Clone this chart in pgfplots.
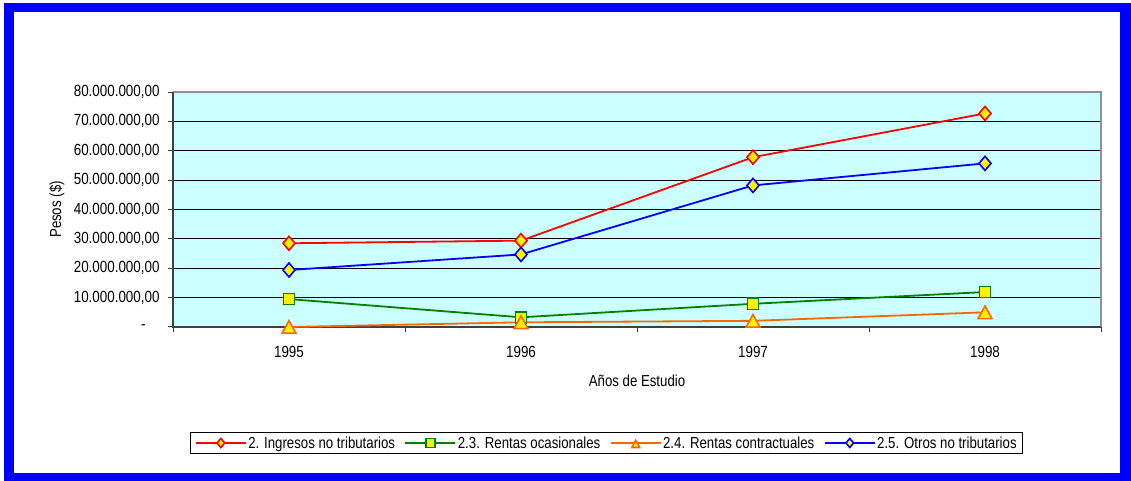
\documentclass[border=0pt]{standalone}
\usepackage{pgfplots}
\pgfplotsset{compat=1.18}
\usepackage{fontspec}
\setmainfont[FakeStretch=0.83]{Liberation Sans}
\definecolor{bg}{HTML}{CCFFFF}
\definecolor{sgreen}{HTML}{008000}
\definecolor{sorange}{HTML}{FF6600}
\definecolor{sblue}{HTML}{0000FF}
\definecolor{axdark}{HTML}{404040}
\definecolor{axgray}{HTML}{909090}
\begin{document}
\begin{tikzpicture}
\useasboundingbox (0,0) rectangle (1131bp,481bp);
\fill[sblue] (4bp,0bp) rectangle (1131bp,478bp);
\fill[white] (14bp,8bp) rectangle (1120bp,469bp);
\begin{axis}[
  at={(173bp,154bp)}, anchor=south west, scale only axis,
  width=928bp, height=235bp,
  xmin=-0.5, xmax=3.5, ymin=0, ymax=80000000,
  xtick={0,1,2,3}, xticklabels={1995,1996,1997,1998},
  minor xtick={-0.5,0.5,1.5,2.5,3.5},
  ytick={0,10000000,20000000,30000000,40000000,50000000,60000000,70000000,80000000},
  yticklabels={{-\hspace*{14bp}},{10.000.000,00},{20.000.000,00},{30.000.000,00},{40.000.000,00},{50.000.000,00},{60.000.000,00},{70.000.000,00},{80.000.000,00}},
  scaled y ticks=false,
  tick align=outside, tick pos=left,
  major tick length=5bp, minor tick length=5bp,
  major x tick style={draw=none},
  tick style={color=axdark, line width=1bp},
  ymajorgrids, major grid style={black, line width=0.8bp},
  axis line style={draw=none},
  axis background/.style={fill=bg},
  ticklabel style={font=\fontsize{16.2}{18}\selectfont},
  yticklabel style={xshift=-5bp},
  xticklabel style={yshift=-11bp},
  label style={font=\fontsize{16}{18}\selectfont},
  xlabel={Años de Estudio}, ylabel={Pesos (\$)},
  xlabel style={at={(axis description cs:0.5,-0.2298)}, anchor=center},
  ylabel style={at={(axis description cs:-0.1250,0.5)}, anchor=center},
  clip=false,
  legend columns=-1,
  legend style={at={(axis description cs:0.4672,-0.4936)}, anchor=center, draw=black, line width=1bp,
    font=\fontsize{16}{18}\selectfont, inner xsep=4bp, inner ysep=2bp,
    nodes={inner sep=1.5bp},
    /tikz/every even column/.append style={column sep=8bp}},
  legend image code/.code={\draw[mark repeat=2,mark phase=2,#1,mark size=4.5bp] plot coordinates {(0bp,0bp)(25bp,0bp)(50bp,0bp)};},
]
\draw[axgray, line width=1.5bp] (rel axis cs:0,1) -- (rel axis cs:1,1) -- (rel axis cs:1,0);
\draw[axdark, line width=2bp] (rel axis cs:0,1) -- (rel axis cs:0,0) -- (rel axis cs:1,0);
\addplot[color=red, line width=1.8bp, mark=diamond*, mark size=7bp,
  mark options={fill=yellow, draw=red, line width=1.6bp, xscale=1.15}]
  coordinates {(0,28500000)(1,29400000)(2,57800000)(3,72700000)};
\addlegendentry{2. Ingresos no tributarios}
\addplot[color=sgreen, line width=1.8bp, mark=square*, mark size=5.6bp,
  mark options={fill=yellow, draw=sgreen, line width=1.6bp}]
  coordinates {(0,9500000)(1,3300000)(2,7900000)(3,11900000)};
\addlegendentry{2.3. Rentas ocasionales}
\addplot[color=sorange, line width=1.8bp, mark=triangle*, mark size=8bp,
  mark options={fill=yellow, draw=sorange, line width=1.6bp, yscale=1.05, yshift=-2bp}]
  coordinates {(0,0)(1,1600000)(2,2100000)(3,5000000)};
\addlegendentry{2.4. Rentas contractuales}
\addplot[color=sblue, line width=1.8bp, mark=diamond*, mark size=7bp,
  mark options={fill=yellow, draw=sblue, line width=1.6bp, xscale=1.15}]
  coordinates {(0,19400000)(1,24700000)(2,48200000)(3,55700000)};
\addlegendentry{2.5. Otros no tributarios}
\end{axis}
\end{tikzpicture}
\end{document}
